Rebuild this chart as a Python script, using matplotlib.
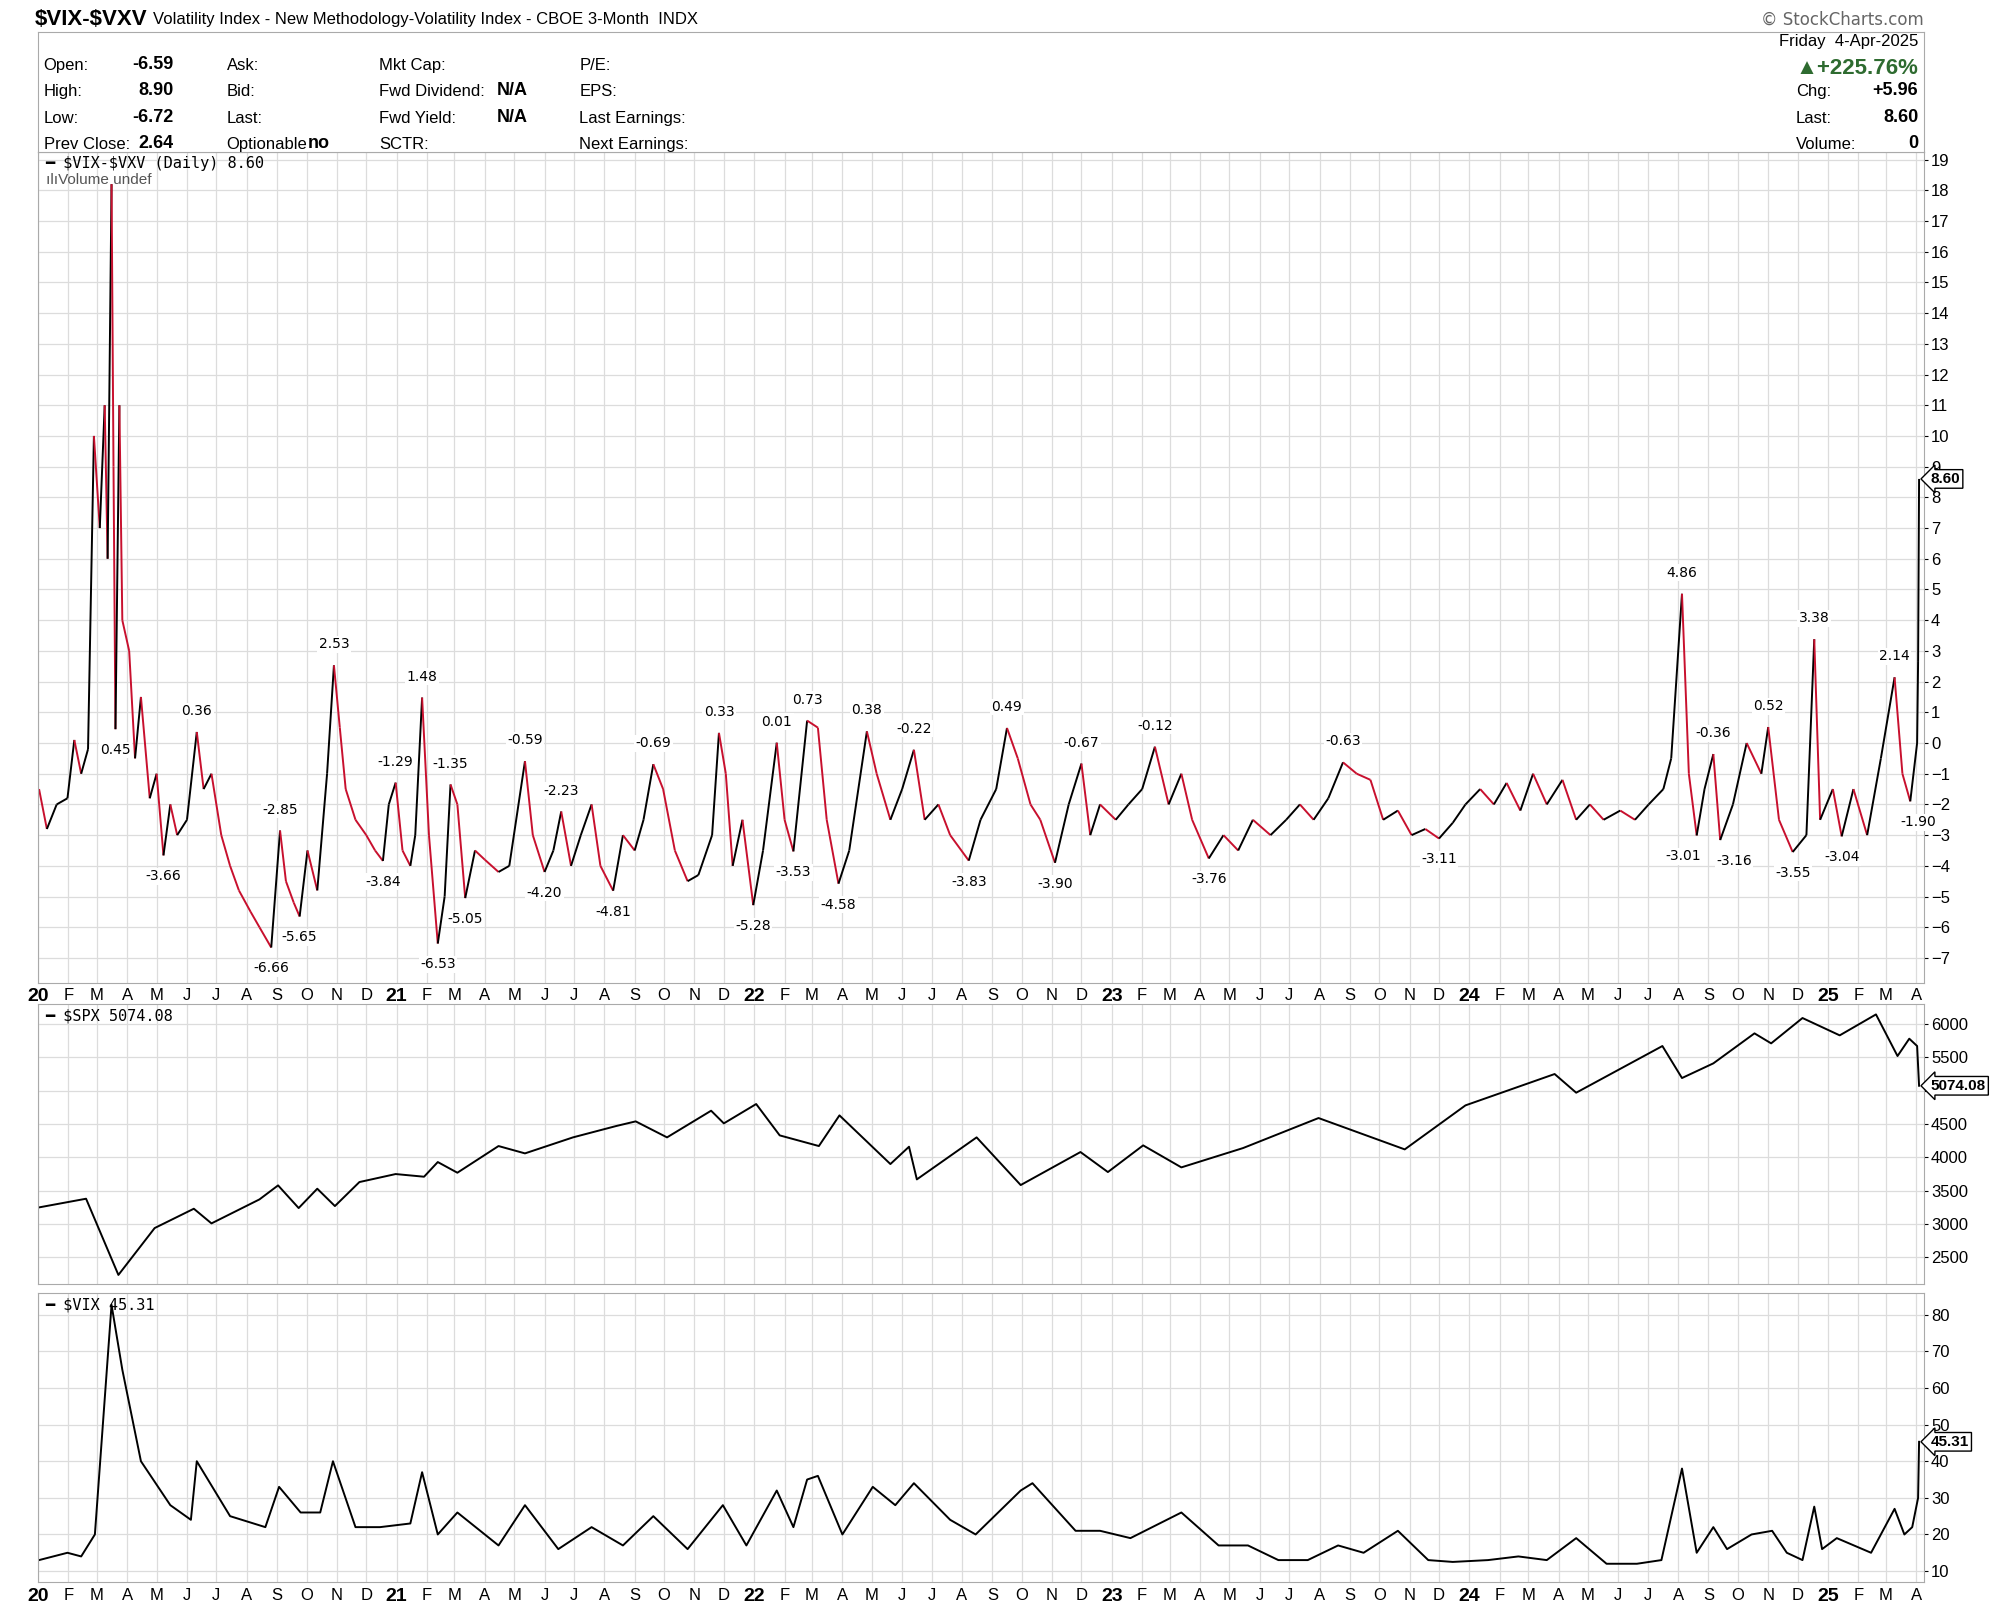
import pandas as pd
import numpy as np
import matplotlib.pyplot as plt
import matplotlib.dates as mdates
from matplotlib.collections import LineCollection

# $VIX-$VXV spread (key points)
spread_dates = ["2020-01-02","2020-01-10","2020-01-20","2020-01-31","2020-02-07","2020-02-14","2020-02-21","2020-02-27",
"2020-03-04","2020-03-09","2020-03-12","2020-03-16","2020-03-18","2020-03-20","2020-03-24","2020-03-27","2020-04-03",
"2020-04-09","2020-04-15","2020-04-24","2020-05-01","2020-05-08","2020-05-15","2020-05-22","2020-06-01","2020-06-11",
"2020-06-18","2020-06-26","2020-07-06","2020-07-15","2020-07-24","2020-08-05","2020-08-14","2020-08-26","2020-09-04",
"2020-09-10","2020-09-18","2020-09-24","2020-10-02","2020-10-12","2020-10-22","2020-10-29","2020-11-04","2020-11-10",
"2020-11-20","2020-12-01","2020-12-10","2020-12-18","2020-12-24","2020-12-31","2021-01-07","2021-01-15","2021-01-20",
"2021-01-27","2021-02-03","2021-02-12","2021-02-19","2021-02-25","2021-03-04","2021-03-12","2021-03-22","2021-04-01",
"2021-04-15","2021-04-26","2021-05-12","2021-05-20","2021-06-01","2021-06-10","2021-06-18","2021-06-28","2021-07-08",
"2021-07-19","2021-07-28","2021-08-10","2021-08-20","2021-09-01","2021-09-10","2021-09-20","2021-09-30","2021-10-12",
"2021-10-25","2021-11-05","2021-11-19","2021-11-26","2021-12-03","2021-12-10","2021-12-20","2021-12-31","2022-01-10",
"2022-01-24","2022-02-01","2022-02-10","2022-02-24","2022-03-07","2022-03-16","2022-03-28","2022-04-08","2022-04-26",
"2022-05-06","2022-05-20","2022-06-01","2022-06-13","2022-06-24","2022-07-08","2022-07-20","2022-08-08","2022-08-20",
"2022-09-05","2022-09-16","2022-09-27","2022-10-10","2022-10-20","2022-11-04","2022-11-18","2022-12-01","2022-12-10",
"2022-12-20","2023-01-05","2023-01-18","2023-02-01","2023-02-14","2023-02-28","2023-03-13","2023-03-24","2023-04-10",
"2023-04-25","2023-05-10","2023-05-25","2023-06-12","2023-06-28","2023-07-12","2023-07-26","2023-08-10","2023-08-25",
"2023-09-08","2023-09-22","2023-10-05","2023-10-20","2023-11-03","2023-11-17","2023-12-01","2023-12-15","2023-12-28",
"2024-01-12","2024-01-26","2024-02-08","2024-02-22","2024-03-06","2024-03-20","2024-04-05","2024-04-19","2024-05-03",
"2024-05-17","2024-06-03","2024-06-18","2024-07-02","2024-07-17","2024-07-25","2024-08-05","2024-08-12","2024-08-20",
"2024-08-28","2024-09-06","2024-09-13","2024-09-26","2024-10-10","2024-10-25","2024-11-01","2024-11-12","2024-11-26",
"2024-12-10","2024-12-18","2024-12-24","2025-01-06","2025-01-15","2025-01-27","2025-02-10","2025-02-24","2025-03-10",
"2025-03-18","2025-03-26","2025-04-02","2025-04-03","2025-04-04"]
spread_vals = [-1.5,-2.8,-2.0,-1.8,0.1,-1.0,-0.2,10,7,11,6,18.2,9,0.45,11,4,3,-0.5,1.5,-1.8,-1.0,-3.66,-2.0,-3.0,-2.5,0.36,
-1.5,-1.0,-3.0,-4.0,-4.8,-5.5,-6.0,-6.66,-2.85,-4.5,-5.2,-5.65,-3.5,-4.8,-1.0,2.53,0.5,-1.5,-2.5,-3.0,-3.5,-3.84,-2.0,-1.29,
-3.5,-4.0,-3.0,1.48,-3.0,-6.53,-5.0,-1.35,-2.0,-5.05,-3.5,-3.8,-4.2,-4.0,-0.59,-3.0,-4.20,-3.5,-2.23,-4.0,-3.0,-2.0,-4.0,
-4.81,-3.0,-3.5,-2.5,-0.69,-1.5,-3.5,-4.5,-4.3,-3.0,0.33,-1.0,-4.0,-2.5,-5.28,-3.5,0.01,-2.5,-3.53,0.73,0.5,-2.5,-4.58,
-3.5,0.38,-1.0,-2.5,-1.5,-0.22,-2.5,-2.0,-3.0,-3.83,-2.5,-1.5,0.49,-0.5,-2.0,-2.5,-3.90,-2.0,-0.67,-3.0,-2.0,-2.5,-2.0,
-1.5,-0.12,-2.0,-1.0,-2.5,-3.76,-3.0,-3.5,-2.5,-3.0,-2.5,-2.0,-2.5,-1.8,-0.63,-1.0,-1.2,-2.5,-2.2,-3.0,-2.8,-3.11,-2.6,
-2.0,-1.5,-2.0,-1.3,-2.2,-1.0,-2.0,-1.2,-2.5,-2.0,-2.5,-2.2,-2.5,-2.0,-1.5,-0.5,4.86,-1.0,-3.01,-1.5,-0.36,-3.16,-2.0,
0.0,-1.0,0.52,-2.5,-3.55,-3.0,3.38,-2.5,-1.5,-3.04,-1.5,-3.0,-0.5,2.14,-1.0,-1.90,0.0,2.64,8.60]

# labelled extremes
label_dates = ["2020-03-20","2020-05-08","2020-06-11","2020-08-26","2020-09-04","2020-09-24","2020-10-29","2020-12-18",
"2020-12-31","2021-01-27","2021-02-12","2021-02-25","2021-03-12","2021-05-12","2021-06-01","2021-06-18","2021-08-10",
"2021-09-20","2021-11-26","2021-12-31","2022-01-24","2022-02-10","2022-02-24","2022-03-28","2022-04-26","2022-06-13",
"2022-08-08","2022-09-16","2022-11-04","2022-12-01","2023-02-14","2023-04-10","2023-08-25","2023-12-01","2024-08-05",
"2024-08-20","2024-09-06","2024-09-13","2024-11-01","2024-11-26","2024-12-18","2025-01-15","2025-03-10","2025-03-26"]
label_shift = {"2024-08-20": -10, "2024-09-13": 10, "2025-03-26": 6}

spx_dates = ["2020-01-02","2020-02-19","2020-03-23","2020-04-29","2020-06-08","2020-06-26","2020-08-14","2020-09-02",
"2020-09-23","2020-10-12","2020-10-30","2020-11-24","2020-12-31","2021-01-29","2021-02-12","2021-03-04","2021-04-15",
"2021-05-12","2021-06-30","2021-08-13","2021-09-02","2021-10-04","2021-11-18","2021-12-01","2022-01-03","2022-01-27",
"2022-03-08","2022-03-29","2022-05-20","2022-06-08","2022-06-16","2022-08-16","2022-09-30","2022-11-30","2022-12-28",
"2023-02-02","2023-03-13","2023-05-15","2023-07-31","2023-10-27","2023-12-28","2024-03-28","2024-04-19","2024-07-16",
"2024-08-05","2024-09-06","2024-10-18","2024-11-04","2024-12-06","2025-01-13","2025-02-19","2025-03-13","2025-03-25",
"2025-04-02","2025-04-04"]
spx_vals = [3250,3380,2237,2940,3230,3010,3370,3580,3240,3530,3270,3630,3750,3710,3930,3770,4170,4060,4300,4470,4540,
4300,4700,4510,4800,4330,4170,4630,3900,4160,3670,4300,3585,4080,3780,4180,3850,4140,4590,4120,4780,5250,4970,5670,
5190,5410,5860,5710,6090,5830,6144,5520,5780,5670,5074.08]

vix_dates = ["2020-01-02","2020-01-31","2020-02-14","2020-02-28","2020-03-16","2020-03-27","2020-04-15","2020-05-15",
"2020-06-05","2020-06-11","2020-07-15","2020-08-20","2020-09-03","2020-09-25","2020-10-15","2020-10-28","2020-11-20",
"2020-12-15","2021-01-15","2021-01-27","2021-02-12","2021-03-04","2021-04-15","2021-05-12","2021-06-15","2021-07-19",
"2021-08-20","2021-09-20","2021-10-25","2021-11-30","2021-12-24","2022-01-24","2022-02-10","2022-02-24","2022-03-07",
"2022-04-01","2022-05-02","2022-05-25","2022-06-13","2022-07-20","2022-08-15","2022-09-30","2022-10-12","2022-11-25",
"2022-12-20","2023-01-20","2023-03-13","2023-04-20","2023-05-20","2023-06-20","2023-07-20","2023-08-20","2023-09-15",
"2023-10-20","2023-11-20","2023-12-15","2024-01-20","2024-02-20","2024-03-20","2024-04-19","2024-05-20","2024-06-20",
"2024-07-15","2024-08-05","2024-08-20","2024-09-06","2024-09-20","2024-10-15","2024-11-05","2024-11-20","2024-12-06",
"2024-12-18","2024-12-26","2025-01-10","2025-02-14","2025-03-10","2025-03-20","2025-03-28","2025-04-03","2025-04-04"]
vix_vals = [13,15,14,20,82.7,65,40,28,24,40,25,22,33,26,26,40,22,22,23,37,20,26,17,28,16,22,17,25,16,28,17,32,22,35,36,
20,33,28,34,24,20,32,34,21,21,19,26,17,17,13,13,17,15,21,13,12.5,13,14,13,19,12,12,13,38,15,22,16,20,21,15,13,27.6,
16,19,15,27,20,22,30,45.31]

spread_d = pd.to_datetime(spread_dates)
spx_d = pd.to_datetime(spx_dates)
vix_d = pd.to_datetime(vix_dates)

plt.rcParams['font.family'] = ['Liberation Sans', 'DejaVu Sans']
fig = plt.figure(figsize=(20.14, 16.16), dpi=100)
grid_c = '#dcdcdc'
mono = 'DejaVu Sans Mono'
x0, x1 = pd.Timestamp("2020-01-01"), pd.Timestamp("2025-04-09")

ax1 = fig.add_axes([0.0189, 0.392, 0.9364, 0.514])
ax2 = fig.add_axes([0.0189, 0.2054, 0.9364, 0.1733], sharex=ax1)
ax3 = fig.add_axes([0.0189, 0.021, 0.9364, 0.179], sharex=ax1)

# spread line coloured by direction
xn = mdates.date2num(spread_d)
y = np.array(spread_vals)
pts = np.column_stack([xn, y]).reshape(-1, 1, 2)
segs = np.concatenate([pts[:-1], pts[1:]], axis=1)
cols = ['black' if b >= a else '#c8102e' for a, b in zip(y[:-1], y[1:])]
ax1.add_collection(LineCollection(segs, colors=cols, linewidths=1.4))
ax1.set_ylim(-7.8, 19.25)
ax1.set_yticks(range(-7, 20))

for ld in label_dates:
    i = spread_dates.index(ld)
    v = spread_vals[i]
    above = v > min(spread_vals[i-1], spread_vals[i+1])
    ax1.annotate(f"{v:.2f}", (xn[i], v), xytext=(label_shift.get(ld, 0), 10 if above else -10), textcoords='offset points',
                 ha='center', va='bottom' if above else 'top', fontsize=10, family='DejaVu Sans',
                 bbox=dict(boxstyle='square,pad=0.1', fc='white', ec='none'))


def last_tag(ax, val, txt):
    ax.annotate(txt, (1.0, val), xycoords=('axes fraction', 'data'), xytext=(5, 0), textcoords='offset points',
                va='center', fontsize=11, fontweight='bold',
                bbox=dict(boxstyle='larrow,pad=0.15', fc='white', ec='black'))


last_tag(ax1, 8.6, "8.60")
ax1.text(0.004, 0.995, "━ \\$VIX-\\$VXV (Daily) 8.60", transform=ax1.transAxes, va='top', fontsize=11, family=mono)
ax1.text(0.004, 0.975, "ılıVolume undef", transform=ax1.transAxes, va='top', fontsize=11, color='#555555')

ax2.plot(spx_d, spx_vals, color='black', lw=1.4)
ax2.set_ylim(2100, 6300)
ax2.set_yticks([2500, 3000, 3500, 4000, 4500, 5000, 5500, 6000])
ax2.set_yticklabels(["2500", "3000", "3500", "4000", "4500", "", "5500", "6000"])
last_tag(ax2, 5074.08, "5074.08")
ax2.text(0.004, 0.985, "━ \\$SPX 5074.08", transform=ax2.transAxes, va='top', fontsize=11, family=mono)

ax3.plot(vix_d, vix_vals, color='black', lw=1.4)
ax3.set_ylim(7, 86)
ax3.set_yticks([10, 20, 30, 40, 50, 60, 70, 80])
last_tag(ax3, 45.31, "45.31")
ax3.text(0.004, 0.985, "━ \\$VIX 45.31", transform=ax3.transAxes, va='top', fontsize=11, family=mono)

months = pd.date_range("2020-01-01", "2025-04-01", freq='MS')
mlabels = [f"{m.year % 100}" if m.month == 1 else "JFMAMJJASOND"[m.month-1] for m in months]
for ax in (ax1, ax2, ax3):
    ax.set_xlim(x0, x1)
    ax.set_xticks(months)
    ax.grid(True, color=grid_c, lw=0.9)
    ax.yaxis.tick_right()
    ax.tick_params(axis='y', labelsize=12, length=3, pad=2)
    ax.tick_params(axis='x', length=0, labelsize=12, pad=4)
    for s in ax.spines.values():
        s.set_color('#aaaaaa')
for ax in (ax1, ax3):
    ax.set_xticklabels(mlabels)
    for t, m in zip(ax.get_xticklabels(), months):
        if m.month == 1:
            t.set_fontweight('bold'); t.set_fontsize(14)
plt.setp(ax2.get_xticklabels(), visible=False)

# header
fig.text(0.017, 0.988, "\\$VIX-\\$VXV", fontsize=16, fontweight='bold', va='center')
fig.text(0.076, 0.988, "Volatility Index - New Methodology-Volatility Index - CBOE 3-Month  INDX", fontsize=12, va='center')
fig.text(0.955, 0.988, "© StockCharts.com", fontsize=12, color='#666666', va='center', ha='right', family='DejaVu Sans')
hdr = fig.add_axes([0.0189, 0.906, 0.9364, 0.074])
hdr.set_xticks([]); hdr.set_yticks([])
for s in hdr.spines.values():
    s.set_color('#aaaaaa')
rows = [0.66, 0.44, 0.22, 0.0]
cells = [(0.003, ["Open:", "High:", "Low:", "Prev Close:"]), (0.1, ["Ask:", "Bid:", "Last:", "Optionable"]),
         (0.181, ["Mkt Cap:", "Fwd Dividend:", "Fwd Yield:", "SCTR:"]), (0.287, ["P/E:", "EPS:", "Last Earnings:", "Next Earnings:"])]
for xx, labs in cells:
    for r, l in zip(rows, labs):
        hdr.text(xx, r, l, fontsize=12, va='bottom', transform=hdr.transAxes)
for r, v in zip(rows, ["-6.59", "8.90", "-6.72", ""]):
    hdr.text(0.072, r, v, fontsize=13, fontweight='bold', ha='right', va='bottom', transform=hdr.transAxes)
hdr.text(0.053, 0.0, "2.64", fontsize=13, fontweight='bold', va='bottom', transform=hdr.transAxes)
hdr.text(0.143, 0.0, "no", fontsize=13, fontweight='bold', va='bottom', transform=hdr.transAxes)
hdr.text(0.243, 0.44, "N/A", fontsize=13, fontweight='bold', va='bottom', transform=hdr.transAxes)
hdr.text(0.243, 0.22, "N/A", fontsize=13, fontweight='bold', va='bottom', transform=hdr.transAxes)
hdr.text(0.997, 0.86, "Friday  4-Apr-2025", fontsize=12, ha='right', va='bottom', transform=hdr.transAxes)
hdr.text(0.997, 0.61, "▲+225.76%", fontsize=16, fontweight='bold', color='#2e6b30', ha='right', va='bottom',
         transform=hdr.transAxes)
for r, l, v in zip([0.44, 0.22, 0.0], ["Chg:", "Last:", "Volume:"], ["+5.96", "8.60", "0"]):
    hdr.text(0.932, r, l, fontsize=12, va='bottom', transform=hdr.transAxes)
    hdr.text(0.997, r, v, fontsize=13, fontweight='bold', ha='right', va='bottom', transform=hdr.transAxes)

fig.savefig("out.png", dpi=100)
